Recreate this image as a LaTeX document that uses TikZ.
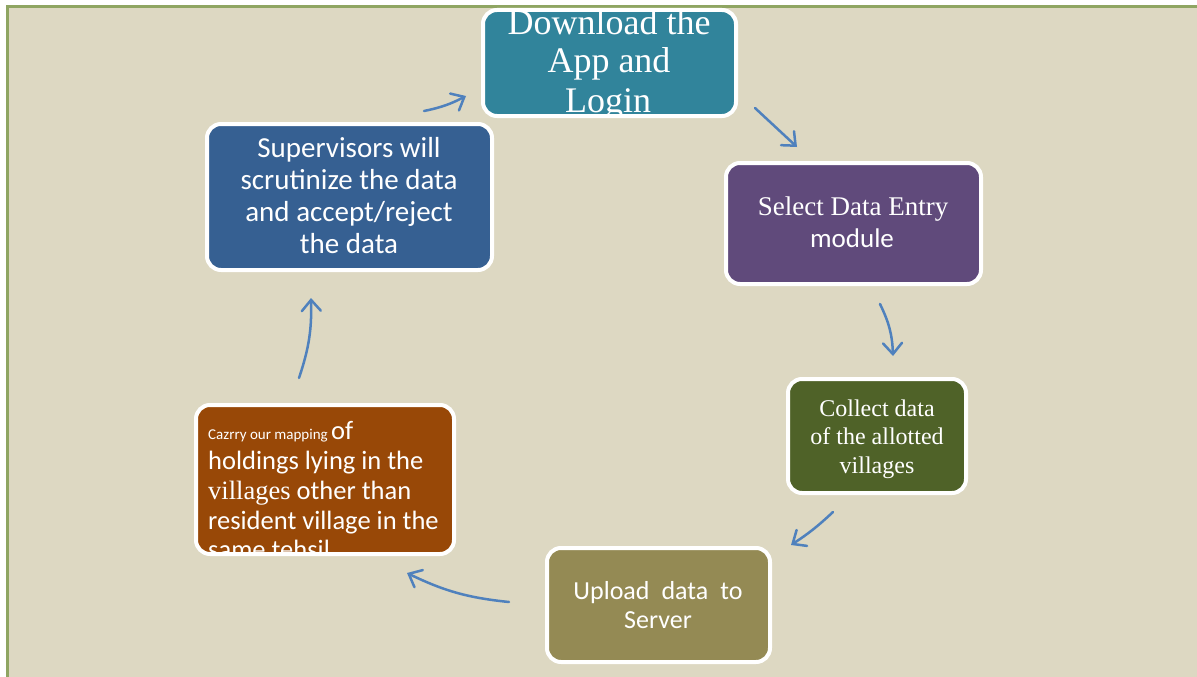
\documentclass[tikz,border=0pt]{standalone}
\usepackage{fontspec}
\setmainfont{Carlito}
\newfontfamily\seriff{Liberation Serif}
\usetikzlibrary{arrows.meta}
\definecolor{bgtan}{HTML}{DDD8C2}
\definecolor{framegreen}{HTML}{8FA562}
\definecolor{cteal}{HTML}{31849B}
\definecolor{cpurple}{HTML}{604A7B}
\definecolor{cgreen}{HTML}{4F6228}
\definecolor{colive}{HTML}{948A54}
\definecolor{corange}{HTML}{984807}
\definecolor{cblue}{HTML}{366092}
\definecolor{arrowblue}{HTML}{4F81BD}
\begin{document}
\begin{tikzpicture}[x=1pt,y=-1pt,
  boxfill/.style={inner sep=0pt, outer sep=0pt, rounded corners=14pt},
  boxedge/.style={draw=white, line width=4pt, rounded corners=14pt},
  txt/.style={text=white, inner sep=0pt, anchor=base},
  txtl/.style={text=white, inner sep=0pt, anchor=base west},
  arr/.style={draw=arrowblue, line width=2.5pt, line cap=round,
    -{Straight Barb[length=11pt,width=19pt,line cap=round]}}]
\useasboundingbox (0,0) rectangle (1197,677);
\fill[white] (0,0) rectangle (1197,677);
\fill[bgtan] (7,6) rectangle (1197,677);
\draw[framegreen, line width=3pt] (7.5,677) -- (7.5,6.5) -- (1197,6.5);

% Download box
\node[boxfill, fill=cteal, minimum width=253pt, minimum height=106pt] (download) at (609.5,63) {};
\begin{scope}
\clip[rounded corners=14pt] (download.south west) rectangle (download.north east);
\begin{scope}[font=\seriff\fontsize{36}{38}\selectfont]
\node[txt] (dl1) at (609,35) {Download the};
\node[txt] (dl2) at (609,73) {App and};
\node[txt] (dl3) at (608,112) {Login};
\end{scope}
\end{scope}
\draw[boxedge] (download.south west) rectangle (download.north east);

% Select box
\node[boxfill, fill=cpurple, minimum width=255pt, minimum height=121pt] (select) at (853.5,223.5) {};
\node[txt, font=\seriff\fontsize{27}{30}\selectfont] (se1) at (853,215) {Select Data Entry};
\node[txt, font=\fontsize{27}{30}\selectfont] (se2) at (852,247) {module};
\draw[boxedge] (select.south west) rectangle (select.north east);

% Collect box
\node[boxfill, fill=cgreen, minimum width=178pt, minimum height=114pt] (collect) at (877,436) {};
\begin{scope}[font=\seriff\fontsize{24}{28}\selectfont]
\node[txt] (co1) at (877,416) {Collect data};
\node[txt] (co2) at (877,444.5) {of the allotted};
\node[txt] (co3) at (877,473) {villages};
\end{scope}
\draw[boxedge] (collect.south west) rectangle (collect.north east);

% Upload box
\node[boxfill, fill=colive, minimum width=223pt, minimum height=114pt] (upload) at (658.5,605) {};
\begin{scope}[font=\fontsize{26}{29}\selectfont]
\node[txt] (up1) at (658,599) {Upload\hspace{12pt}data\hspace{12pt}to};
\node[txt] (up2) at (658,628) {Server};
\end{scope}
\draw[boxedge] (upload.south west) rectangle (upload.north east);

% Orange box
\node[boxfill, fill=corange, minimum width=258pt, minimum height=149pt] (mapping) at (325,479.5) {};
\begin{scope}
\clip[rounded corners=14pt] (mapping.south west) rectangle (mapping.north east);
\begin{scope}[font=\fontsize{26.5}{29}\selectfont]
\node[txtl] (ma1) at (208,439) {{\fontsize{15}{18}\selectfont Cazrry our mapping }of};
\node[txtl] (ma2) at (208,469.5) {holdings lying in the};
\node[txtl] (ma3) at (208,499.5) {{\seriff villages} other than};
\node[txtl] (ma4) at (208,529) {resident village in the};
\node[txtl] (ma5) at (208,558.5) {same tehsil};
\end{scope}
\end{scope}
\draw[boxedge] (mapping.south west) rectangle (mapping.north east);

% Supervisors box
\node[boxfill, fill=cblue, minimum width=285pt, minimum height=146pt] (super) at (349.5,197) {};
\begin{scope}[font=\fontsize{29}{32}\selectfont]
\node[txt] (su1) at (349,157) {Supervisors will};
\node[txt] (su2) at (349,189) {scrutinize the data};
\node[txt] (su3) at (349,221) {and accept/reject};
\node[txt] (su4) at (349,253) {the data};
\end{scope}
\draw[boxedge] (super.south west) rectangle (super.north east);

% Arrows
\coordinate (a1s) at (424,111); \coordinate (a1e) at (466,96);
\coordinate (a2s) at (755,108); \coordinate (a2e) at (797,147);
\coordinate (a3s) at (880,304); \coordinate (a3e) at (893,356);
\coordinate (a4s) at (833,512); \coordinate (a4e) at (791,545);
\coordinate (a5s) at (509,602); \coordinate (a5e) at (407,573);
\coordinate (a6s) at (299,378); \coordinate (a6e) at (311,298);
\draw[arr] (a1s) to[bend right=8] (a1e);
\draw[arr] (a2s) -- (a2e);
\draw[arr] (a3s) to[bend left=12] (a3e);
\draw[arr] (a4s) to[bend left=5] (a4e);
\draw[arr] (a5s) to[bend left=10] (a5e);
\draw[arr] (a6s) to[bend right=10] (a6e);
\end{tikzpicture}
\end{document}
